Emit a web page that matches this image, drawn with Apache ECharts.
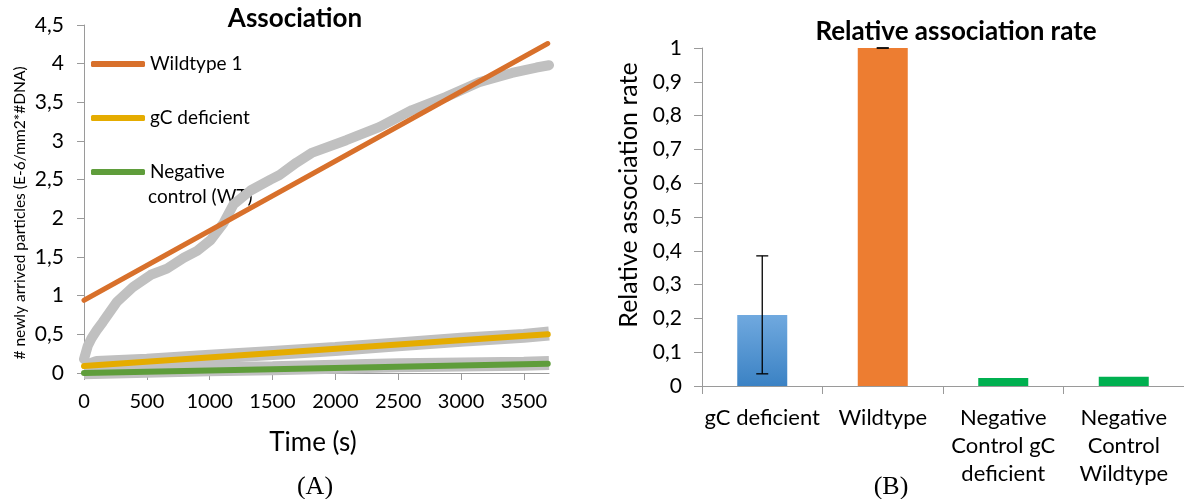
<!DOCTYPE html>
<html>
<head>
<meta charset="utf-8">
<script src="https://cdn.jsdelivr.net/npm/echarts@6/dist/echarts.min.js"></script>
<style>
  html, body { margin: 0; padding: 0; background: #fff; }
  #chart { width: 1184px; height: 499px; }
</style>
</head>
<body>
<div id="chart"></div>
<script>
(function () {

    // (A) association over time
    var timeTicks = [0, 500, 1000, 1500, 2000, 2500, 3000, 3500];

    // raw measurements (grey bands)
    var wtRaw = [
        [0, 0.18], [30, 0.35], [60, 0.45], [100, 0.55], [150, 0.66], [262, 0.92],
        [389, 1.11], [532, 1.27], [660, 1.35], [794, 1.49], [900, 1.58], [1008, 1.72],
        [1111, 1.94], [1190, 2.18], [1325, 2.36], [1484, 2.5], [1556, 2.56],
        [1690, 2.72], [1817, 2.85], [2087, 3.01], [2349, 3.18], [2611, 3.4],
        [2881, 3.57], [3143, 3.76], [3405, 3.88], [3600, 3.95], [3700, 3.98]
    ];
    var gcRaw = [
        [0, 0.07], [100, 0.13], [500, 0.16], [1000, 0.21], [1500, 0.26], [2000, 0.31],
        [2500, 0.37], [3000, 0.43], [3500, 0.48], [3700, 0.51]
    ];
    var negRaw = [
        [0, 0.01], [500, 0.03], [1000, 0.05], [1500, 0.06], [2000, 0.08],
        [2500, 0.1], [3000, 0.11], [3500, 0.12], [3700, 0.13]
    ];

    // linear fits
    var wtFit = [[0, 0.94], [3690, 4.26]];
    var gcFit = [[0, 0.09], [3690, 0.5]];
    var negFit = [[0, 0.0], [3690, 0.12]];

    // (B) relative association rate
    var categories = ['gC deficient', 'Wildtype', 'Negative\nControl gC\ndeficient', 'Negative\nControl\nWildtype'];
    var rates = [0.21, 1.0, 0.024, 0.027];
    var errBars = [[0, 0.036, 0.385], [1, 1.0, 1.0]];

    var FONT = 'Lato';
    var AXIS_GRAY = '#9a9a9a';

    function comma(v) {
        return String(+v.toFixed(2)).replace('.', ',');
    }

    var blue = new echarts.graphic.LinearGradient(0, 0, 0, 1, [
        { offset: 0, color: '#70a9df' },
        { offset: 1, color: '#3b82c4' }
    ]);
    var barColors = [blue, '#ed7d31', '#00b050', '#00b050'];

    var option = {
        animation: false,
        grid: [
            { left: 84, top: 25, width: 465, height: 348 },
            { left: 702, top: 48, width: 482, height: 338 }
        ],
        legend: {
            left: 86,
            top: 49,
            orient: 'vertical',
            selectedMode: false,
            icon: 'roundRect',
            itemWidth: 54,
            itemHeight: 6,
            itemGap: 34,
            data: ['Wildtype 1', 'gC deficient', 'Negative control (WT)'],
            formatter: function (name) {
                return name === 'Negative control (WT)' ? 'Negative' : name;
            },
            textStyle: { fontFamily: FONT, fontSize: 19, color: '#000', lineHeight: 20 }
        },
        xAxis: [{
            type: 'value',
            gridIndex: 0,
            min: 0,
            max: 3700,
            splitLine: { show: false },
            axisLine: { show: true, lineStyle: { color: AXIS_GRAY } },
            axisTick: { show: true, length: 7, customValues: timeTicks, lineStyle: { color: AXIS_GRAY } },
            axisLabel: {
                customValues: timeTicks, margin: 19, fontFamily: FONT, fontSize: 20, color: '#000',
                formatter: function (v) { return String(v); }
            }
        }, {
            type: 'category',
            gridIndex: 1,
            data: categories,
            axisLine: { show: true, lineStyle: { color: AXIS_GRAY } },
            axisTick: { show: true, length: 8, alignWithLabel: false, lineStyle: { color: AXIS_GRAY } },
            axisLabel: { interval: 0, margin: 18, lineHeight: 28, fontFamily: FONT, fontSize: 22, color: '#000' }
        }],
        yAxis: [{
            type: 'value',
            gridIndex: 0,
            min: 0,
            max: 4.5,
            interval: 0.5,
            splitLine: { show: false },
            axisLine: { show: true, lineStyle: { color: AXIS_GRAY } },
            axisTick: { show: true, length: 7, lineStyle: { color: AXIS_GRAY } },
            axisLabel: { margin: 20, formatter: comma, fontFamily: FONT, fontSize: 21, color: '#000' }
        }, {
            type: 'value',
            gridIndex: 1,
            min: 0,
            max: 1,
            interval: 0.1,
            splitLine: { show: false },
            axisLine: { show: true, lineStyle: { color: AXIS_GRAY } },
            axisTick: { show: true, length: 8, lineStyle: { color: AXIS_GRAY } },
            axisLabel: { margin: 20, formatter: comma, fontFamily: FONT, fontSize: 21, color: '#000' }
        }],
        series: [
            { type: 'line', name: 'wt raw', data: wtRaw, symbol: 'none', z: 1,
              lineStyle: { color: '#c0c0c0', width: 10, join: 'round', cap: 'round' } },
            { type: 'line', name: 'gc raw', data: gcRaw, symbol: 'none', z: 1,
              lineStyle: { color: '#c0c0c0', width: 14, cap: 'butt' } },
            { type: 'line', name: 'neg raw', data: negRaw, symbol: 'none', z: 1,
              lineStyle: { color: '#c0c0c0', width: 14, cap: 'butt' } },
            { type: 'line', name: 'Wildtype 1', data: wtFit, symbol: 'none', z: 3, color: '#d8702b',
              lineStyle: { color: '#d8702b', width: 5, cap: 'round' } },
            { type: 'line', name: 'gC deficient', data: gcFit, symbol: 'none', z: 3, color: '#e5ac00',
              lineStyle: { color: '#e5ac00', width: 6, cap: 'round' } },
            { type: 'line', name: 'Negative control (WT)', data: negFit, symbol: 'none', z: 3, color: '#5f9d3b',
              lineStyle: { color: '#5f9d3b', width: 6, cap: 'round' } },
            {
                type: 'bar',
                xAxisIndex: 1,
                yAxisIndex: 1,
                barWidth: 50,
                data: rates.map(function (v, i) {
                    return { value: v, itemStyle: { color: barColors[i] } };
                })
            },
            {
                type: 'custom',
                xAxisIndex: 1,
                yAxisIndex: 1,
                z: 5,
                data: errBars,
                encode: { x: 0, y: [1, 2] },
                renderItem: function (params, api) {
                    var idx = api.value(0);
                    var lo = api.coord([idx, api.value(1)]);
                    var hi = api.coord([idx, api.value(2)]);
                    var w = 6;
                    var st = { stroke: '#000', lineWidth: 1.3 };
                    return {
                        type: 'group',
                        children: [
                            { type: 'line', shape: { x1: hi[0], y1: hi[1], x2: lo[0], y2: lo[1] }, style: st },
                            { type: 'line', shape: { x1: hi[0] - w, y1: hi[1], x2: hi[0] + w, y2: hi[1] }, style: st },
                            { type: 'line', shape: { x1: lo[0] - w, y1: lo[1], x2: lo[0] + w, y2: lo[1] }, style: st }
                        ]
                    };
                }
            }
        ],
        graphic: [
            { type: 'text', x: 295, y: 19, style: { text: 'Association', fontFamily: FONT, fontWeight: 'bold', fontSize: 26, fill: '#000', textAlign: 'center', textVerticalAlign: 'middle' } },
            { type: 'text', x: 956, y: 32, style: { text: 'Relative association rate', fontFamily: FONT, fontWeight: 'bold', fontSize: 26, fill: '#000', textAlign: 'center', textVerticalAlign: 'middle' } },
            { type: 'text', x: 148, y: 197, style: { text: 'control (WT)', fontFamily: FONT, fontSize: 19, fill: '#000', textAlign: 'left', textVerticalAlign: 'middle' } },
            { type: 'text', x: 20, y: 213, rotation: Math.PI / 2, style: { text: '# newly arrived particles (E-6/mm2*#DNA)', fontFamily: FONT, fontSize: 15.5, fill: '#000', textAlign: 'center', textVerticalAlign: 'middle' } },
            { type: 'text', x: 629, y: 195, rotation: Math.PI / 2, style: { text: 'Relative association rate', fontFamily: FONT, fontSize: 25, fill: '#000', textAlign: 'center', textVerticalAlign: 'middle' } },
            { type: 'text', x: 313, y: 443, style: { text: 'Time (s)', fontFamily: FONT, fontSize: 26, fill: '#000', textAlign: 'center', textVerticalAlign: 'middle' } },
            { type: 'text', x: 315, y: 487, style: { text: '(A)', fontFamily: 'Liberation Serif', fontSize: 26, fill: '#000', textAlign: 'center', textVerticalAlign: 'middle' } },
            { type: 'text', x: 891, y: 487, style: { text: '(B)', fontFamily: 'Liberation Serif', fontSize: 26, fill: '#000', textAlign: 'center', textVerticalAlign: 'middle' } }
        ]
    };

    var chart = echarts.init(document.getElementById('chart'), null, { renderer: 'canvas' });
    chart.setOption(option);

})();
</script>
</body>
</html>
